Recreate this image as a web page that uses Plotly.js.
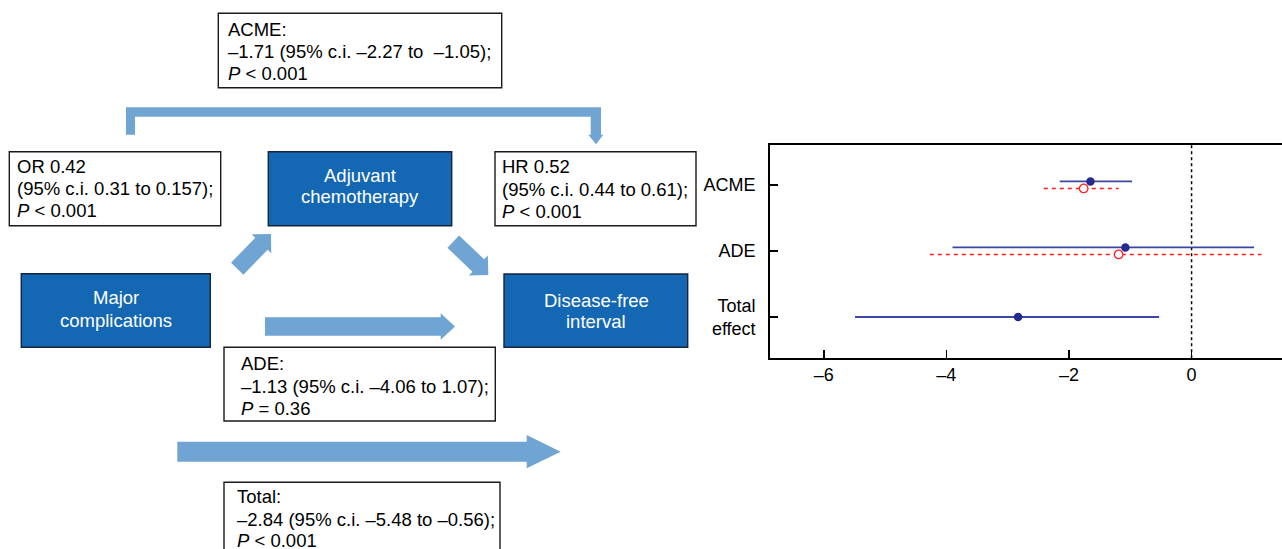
<!DOCTYPE html>
<html>
<head>
<meta charset="utf-8">
<script src="https://cdn.plot.ly/plotly-3.0.1.min.js"></script>
<style>html,body{margin:0;padding:0;background:#fff;}#chart{width:1282px;height:549px;}</style>
</head>
<body>
<div id="chart"></div>
<script>
// ---------------- data ----------------
const categories = ['ACME', 'ADE', 'Total<br>effect'];
const categoryPos = [3, 2, 1];
const modelEst = [-1.65, -1.08, -2.83];
const modelLo  = [-2.15, -3.90, -5.49];
const modelHi  = [-0.97, 1.02, -0.53];
const sensEst = [-1.76, -1.19];
const sensLo  = [-2.41, -4.27];
const sensHi  = [-1.19, 1.14];
const xTickVals = [-6, -4, -2, 0];
const xTickText = ['\u20136', '\u20134', '\u20132', '0'];

const acmeLines  = ['ACME:', '\u20131.71 (95% c.i. \u20132.27 to \u00a0\u20131.05);', '<i>P</i> < 0.001'];
const orLines    = ['OR 0.42', '(95% c.i. 0.31 to 0.157);', '<i>P</i> < 0.001'];
const hrLines    = ['HR 0.52', '(95% c.i. 0.44 to 0.61);', '<i>P</i> < 0.001'];
const adeLines   = ['ADE:', '\u20131.13 (95% c.i. \u20134.06 to 1.07);', '<i>P</i> = 0.36'];
const totalLines = ['Total:', '\u20132.84 (95% c.i. \u20135.48 to \u20130.56);', '<i>P</i> < 0.001'];
const adjLines   = ['Adjuvant', 'chemotherapy'];
const majorLines = ['Major', 'complications'];
const dfiLines   = ['Disease-free', 'interval'];

// ---------------- styling / layout helpers ----------------
const W = 1282, H = 549;
const px = x => x / W;
const py = y => 1 - y / H;
const FONT = 'Arial, "Liberation Sans", sans-serif';
const DARK = '#1467B3';
const LIGHT = '#70A5D3';
const OFF = 0.053;

const shapes = [];
const annotations = [];

function rect(l, t, r, b, fill, lineColor) {
  shapes.push({type: 'rect', xref: 'paper', yref: 'paper', x0: px(l), x1: px(r), y0: py(b), y1: py(t),
    fillcolor: fill, line: {color: lineColor, width: 1.4}, layer: 'above'});
}
function poly(pts, fill) {
  const d = pts.map((p, i) => (i ? 'L' : 'M') + px(p[0]).toFixed(5) + ',' + py(p[1]).toFixed(5)).join(' ') + ' Z';
  shapes.push({type: 'path', xref: 'paper', yref: 'paper', path: d, fillcolor: fill, line: {width: 0}, layer: 'above'});
}
function arrow(x0, y0, x1, y1, sw, hw, hl) {
  const L = Math.hypot(x1 - x0, y1 - y0);
  const ux = (x1 - x0) / L, uy = (y1 - y0) / L;
  const nx = -uy, ny = ux;
  const bx = x1 - ux * hl, by = y1 - uy * hl;
  poly([
    [x0 + nx * sw / 2, y0 + ny * sw / 2],
    [bx + nx * sw / 2, by + ny * sw / 2],
    [bx + nx * hw / 2, by + ny * hw / 2],
    [x1, y1],
    [bx - nx * hw / 2, by - ny * hw / 2],
    [bx - nx * sw / 2, by - ny * sw / 2],
    [x0 - nx * sw / 2, y0 - ny * sw / 2]
  ], LIGHT);
}
function textLines(lines, x, ys, anchor, color) {
  lines.forEach((t, i) => annotations.push({xref: 'paper', yref: 'paper', x: px(x), y: py(ys[i]),
    xanchor: anchor, yanchor: 'middle', text: t, showarrow: false,
    font: {family: FONT, size: 18.5, color: color}}));
}

// text boxes
rect(218.3, 13.3, 501.7, 87.7, '#ffffff', '#1a1a1a');
textLines(acmeLines, 226, [29.5, 51.5, 73.5], 'left', '#000');
rect(9.3, 151.7, 220.7, 225.7, '#ffffff', '#1a1a1a');
textLines(orLines, 15, [166, 188.3, 210.3], 'left', '#000');
rect(495, 151.7, 696, 225.7, '#ffffff', '#1a1a1a');
textLines(hrLines, 500, [166.7, 189.3, 211], 'left', '#000');
rect(224, 347.3, 495.3, 421, '#ffffff', '#1a1a1a');
textLines(adeLines, 239, [363.3, 386, 408.3], 'left', '#000');
rect(224, 482.3, 500, 570, '#ffffff', '#1a1a1a');
textLines(totalLines, 234.5, [496.7, 519.3, 540.5], 'left', '#000');

// node boxes
rect(268.3, 151.7, 451.7, 225.7, DARK, '#16243d');
textLines(adjLines, 360, [175, 196.7], 'center', '#fff');
rect(21.3, 273.7, 210.3, 347.3, DARK, '#16243d');
textLines(majorLines, 116, [297.7, 320], 'center', '#fff');
rect(504, 274, 687.7, 347.3, DARK, '#16243d');
textLines(dfiLines, 596, [300, 321.7], 'center', '#fff');

// arrows
arrow(237.2, 268.7, 271, 234, 17.2, 27.3, 13.7);
arrow(453.3, 241.7, 488.3, 275, 17, 27.6, 13.8);
arrow(265, 326.5, 455, 326.5, 18.4, 26.7, 14.3);
arrow(177.3, 451.7, 560.7, 451.7, 20, 33.3, 34);
// bracket arrow (mediation path)
poly([[126, 107.3], [601, 107.3], [601, 134.7], [603.3, 134.7], [596, 144.3], [588.3, 134.7],
      [590.7, 134.7], [590.7, 116.7], [135, 116.7], [135, 134.7], [126, 134.7]], LIGHT);

// ---------------- forest plot ----------------
function segs(lo, hi, off) {
  const x = [], y = [];
  lo.forEach((v, i) => { x.push(v, hi[i], null); y.push(categoryPos[i] + off(i), categoryPos[i] + off(i), null); });
  return {x, y};
}
const blueOff = i => (i < sensEst.length ? OFF : 0);
const redOff = i => -OFF;
const bSeg = segs(modelLo, modelHi, blueOff);
const rSeg = segs(sensLo, sensHi, redOff);

const traces = [
  {x: bSeg.x, y: bSeg.y, mode: 'lines', line: {color: '#3b47a3', width: 1.8}, hoverinfo: 'skip', showlegend: false},
  {x: rSeg.x, y: rSeg.y, mode: 'lines', line: {color: '#ff1a1a', width: 1.6, dash: '4px,4px'}, hoverinfo: 'skip', showlegend: false},
  {x: modelEst, y: modelEst.map((v, i) => categoryPos[i] + blueOff(i)), mode: 'markers',
   marker: {color: '#232c8c', size: 8.5}, showlegend: false},
  {x: sensEst, y: sensEst.map((v, i) => categoryPos[i] + redOff(i)), mode: 'markers',
   marker: {color: '#ffffff', size: 8.5, line: {color: '#ff2020', width: 1.3}}, showlegend: false}
];

shapes.push({type: 'line', xref: 'x', yref: 'y domain', x0: 0, x1: 0, y0: 0, y1: 1,
  line: {color: '#000', width: 1.5, dash: 'dot'}, layer: 'below'});

const layout = {
  width: W, height: H,
  margin: {l: 0, r: 0, t: 0, b: 0},
  paper_bgcolor: '#fff', plot_bgcolor: '#fff',
  showlegend: false,
  font: {family: FONT, size: 18, color: '#000'},
  xaxis: {domain: [px(769.7), 1], range: [-6.882, 1.475], tickvals: xTickVals, ticktext: xTickText,
    ticks: 'inside', ticklen: 8, tickwidth: 1.5, tickcolor: '#000', showline: true, linewidth: 1.5,
    linecolor: '#000', mirror: true, showgrid: false, zeroline: false, fixedrange: true,
    tickfont: {family: FONT, size: 18, color: '#000'}, ticklabelstandoff: 0},
  yaxis: {domain: [py(358.3), py(144.7)], range: [0.374, 3.61], tickvals: categoryPos, ticktext: categories,
    ticks: 'inside', ticklen: 8, tickwidth: 1.5, tickcolor: '#000', showline: true, linewidth: 1.5,
    linecolor: '#000', mirror: false, showgrid: false, zeroline: false, fixedrange: true,
    tickfont: {family: FONT, size: 18, color: '#000'}, ticklabelstandoff: 9},
  shapes: shapes,
  annotations: annotations
};

Plotly.newPlot('chart', traces, layout, {staticPlot: true, displayModeBar: false});
</script>
</body>
</html>
